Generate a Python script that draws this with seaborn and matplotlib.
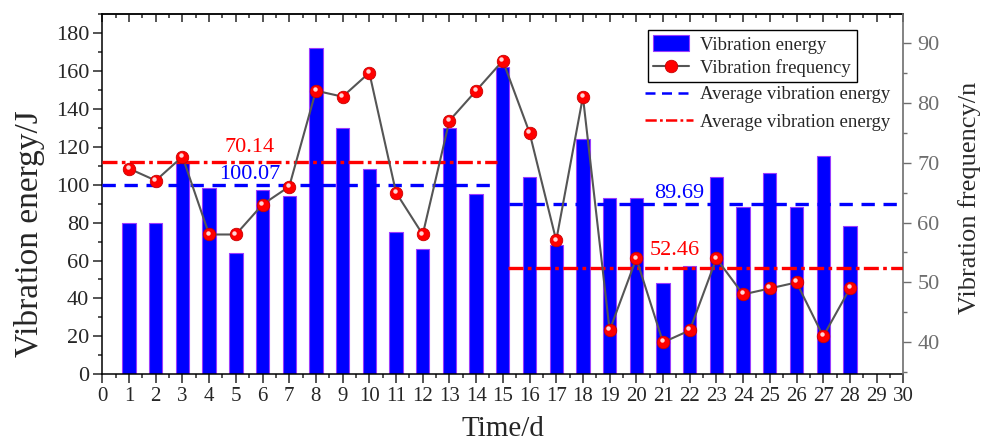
import matplotlib
matplotlib.use("Agg")
import matplotlib.pyplot as plt
import matplotlib.transforms as mtransforms
from matplotlib.lines import Line2D
from matplotlib.patches import Patch
from matplotlib.ticker import MultipleLocator
import pandas as pd
import seaborn as sns

# ---- data -------------------------------------------------------------
days = list(range(1, 29))
energy = [80, 80, 112, 98, 64, 97, 94, 172, 130, 108, 75, 66, 130, 95, 162,
          104, 68, 124, 93, 93, 48, 57, 104, 88, 106, 88, 115, 78]
frequency = [69, 67, 71, 58, 58, 63, 66, 82, 81, 85, 65, 58, 77, 82, 87,
             75, 57, 81, 42, 54, 40, 42, 54, 48, 49, 50, 41, 49]
avg_energy = [100.07, 89.69]      # first / second period
avg_frequency = [70.14, 52.46]    # first / second period
legend_labels = ["Vibration energy", "Vibration frequency",
                 "Average vibration energy", "Average vibration energy"]

df = pd.DataFrame({"day": days, "energy": energy, "frequency": frequency})

# ---- style ------------------------------------------------------------
sns.set_style("ticks")
plt.rcParams["font.family"] = ["Liberation Serif", "DejaVu Serif"]
plt.rcParams["axes.linewidth"] = 1.1

BLUE = "#0000ff"
BAR_EDGE = "#9a3cff"
RED = "#ff0000"
GRAY = "#555555"
AXIS_GRAY = "#6e6e6e"

fig = plt.figure(figsize=(9.84, 4.44), dpi=100)
ax = fig.add_axes([0.104, 0.157, 0.814, 0.8115])
ax2 = ax.twinx()

# bars: vibration energy (left axis)
sns.barplot(data=df, x="day", y="energy", native_scale=True, width=0.5,
            color=BLUE, saturation=1, edgecolor=BAR_EDGE, linewidth=0.8,
            ax=ax, zorder=2)

# line + markers: vibration frequency (right axis)
sns.lineplot(data=df, x="day", y="frequency", ax=ax2, color=GRAY, lw=1.5,
             marker="o", markersize=9, markerfacecolor=RED,
             markeredgecolor="#c80000", markeredgewidth=0.6, zorder=4)
shine = mtransforms.offset_copy(ax2.transData, fig=fig, x=-1.0, y=1.4,
                                units="points")
ax2.plot(days, frequency, ls="none", marker="o", ms=3.2, mfc="#ffd6d6",
         mec="none", transform=shine, zorder=5)

# period averages
blue_kw = dict(color=BLUE, lw=2.4, dashes=(4, 2.6), zorder=3)
red_kw = dict(color=RED, lw=2.4, dashes=(4.5, 1.3, 1.1, 1.3), zorder=3)
ax.plot([0, 14.8], [avg_energy[0]] * 2, **blue_kw)
ax.plot([15.25, 30], [avg_energy[1]] * 2, **blue_kw)
ax2.plot([0, 14.8], [avg_frequency[0]] * 2, **red_kw)
ax2.plot([15.2, 30], [avg_frequency[1]] * 2, **red_kw)

ax.text(5.53, 105.6, f"{avg_energy[0]:.2f}", color=BLUE, fontsize=16,
        ha="center", va="center", zorder=6)
ax.text(21.6, 95.6, f"{avg_energy[1]:.2f}", color=BLUE, fontsize=16,
        ha="center", va="center", zorder=6)
ax2.text(5.53, 72.6, f"{avg_frequency[0]:.2f}", color=RED, fontsize=16,
         ha="center", va="center", zorder=6)
ax2.text(21.45, 55.4, f"{avg_frequency[1]:.2f}", color=RED, fontsize=16,
         ha="center", va="center", zorder=6)

# ---- axes -------------------------------------------------------------
ax.set_xlim(0, 30)
ax.set_ylim(0, 190)
ax2.set_ylim(34.67, 94.8)

ax.xaxis.set_major_locator(MultipleLocator(1))
ax.xaxis.set_minor_locator(MultipleLocator(0.5))
ax.yaxis.set_major_locator(MultipleLocator(20))
ax.yaxis.set_minor_locator(MultipleLocator(10))
ax2.yaxis.set_major_locator(MultipleLocator(10))
ax2.yaxis.set_minor_locator(MultipleLocator(5))
ax2.set_yticks(range(40, 91, 10))

ax.tick_params(axis="x", which="major", direction="out", length=6.5,
               width=1.1, labelsize=15, pad=3)
ax.tick_params(axis="x", which="minor", direction="out", length=3,
               width=1.1)
ax.tick_params(axis="y", which="major", direction="out", length=6.5,
               width=1.1, labelsize=16, pad=3)
ax.tick_params(axis="y", which="minor", direction="out", length=3,
               width=1.1)
ax2.tick_params(axis="y", which="major", direction="out", length=6,
                width=1.0, labelsize=16, pad=4, colors=AXIS_GRAY)
ax2.tick_params(axis="y", which="minor", direction="out", length=3,
                width=1.0, colors=AXIS_GRAY)

top = ax.secondary_xaxis("top")
top.xaxis.set_major_locator(MultipleLocator(1))
top.xaxis.set_minor_locator(MultipleLocator(0.5))
top.tick_params(axis="x", which="major", direction="in", length=6,
                width=1.1, labeltop=False)
top.tick_params(axis="x", which="minor", direction="in", length=3,
                width=1.1)

ax.set_xticks(range(0, 31))
ax.set_xticklabels([str(d) for d in range(0, 31)])

for side in ("left", "bottom", "top"):
    ax.spines[side].set_color("black")
ax.spines["right"].set_visible(False)
for side in ("left", "bottom", "top"):
    ax2.spines[side].set_visible(False)
ax2.spines["right"].set_color(AXIS_GRAY)
ax2.spines["right"].set_linewidth(1.2)

ax.set_xlabel("Time/d", fontsize=21)
ax.set_ylabel("Vibration energy/J", fontsize=24)
ax2.set_ylabel("Vibration frequency/n", fontsize=19, color="#2a2a2a")
ax.xaxis.set_label_coords(0.5, -0.115)
ax.yaxis.set_label_coords(-0.071, 0.39)
ax2.yaxis.set_label_coords(1.068, 0.49)

# ---- legends ----------------------------------------------------------
h_bar = Patch(facecolor=BLUE, edgecolor=BAR_EDGE, linewidth=0.8)
h_line = Line2D([], [], color=GRAY, lw=1.5, marker="o", markersize=9,
                markerfacecolor=RED, markeredgecolor="#c80000",
                markeredgewidth=0.6)
h_avg_e = Line2D([], [], color=BLUE, lw=1.8, dashes=(4, 2.6))
h_avg_f = Line2D([], [], color=RED, lw=1.8, dashes=(4.5, 1.3, 1.1, 1.3))

leg1 = ax2.legend([h_bar, h_line], legend_labels[:2], loc="upper left",
                  bbox_to_anchor=(0.681, 0.956), frameon=True, fancybox=False,
                  edgecolor="black", framealpha=1, fontsize=13.5,
                  borderpad=0.3, handlelength=1.9, handleheight=0.9,
                  handletextpad=0.6, labelspacing=0.25, borderaxespad=0)
leg1.get_frame().set_linewidth(1.0)
ax2.add_artist(leg1)
ax2.legend([h_avg_e, h_avg_f], legend_labels[2:], loc="upper left",
           bbox_to_anchor=(0.6775, 0.80), frameon=False, fontsize=13.5,
           borderpad=0.0, handlelength=2.55, handletextpad=0.4,
           labelspacing=0.55, borderaxespad=0)

fig.savefig("out.png", dpi=100)
